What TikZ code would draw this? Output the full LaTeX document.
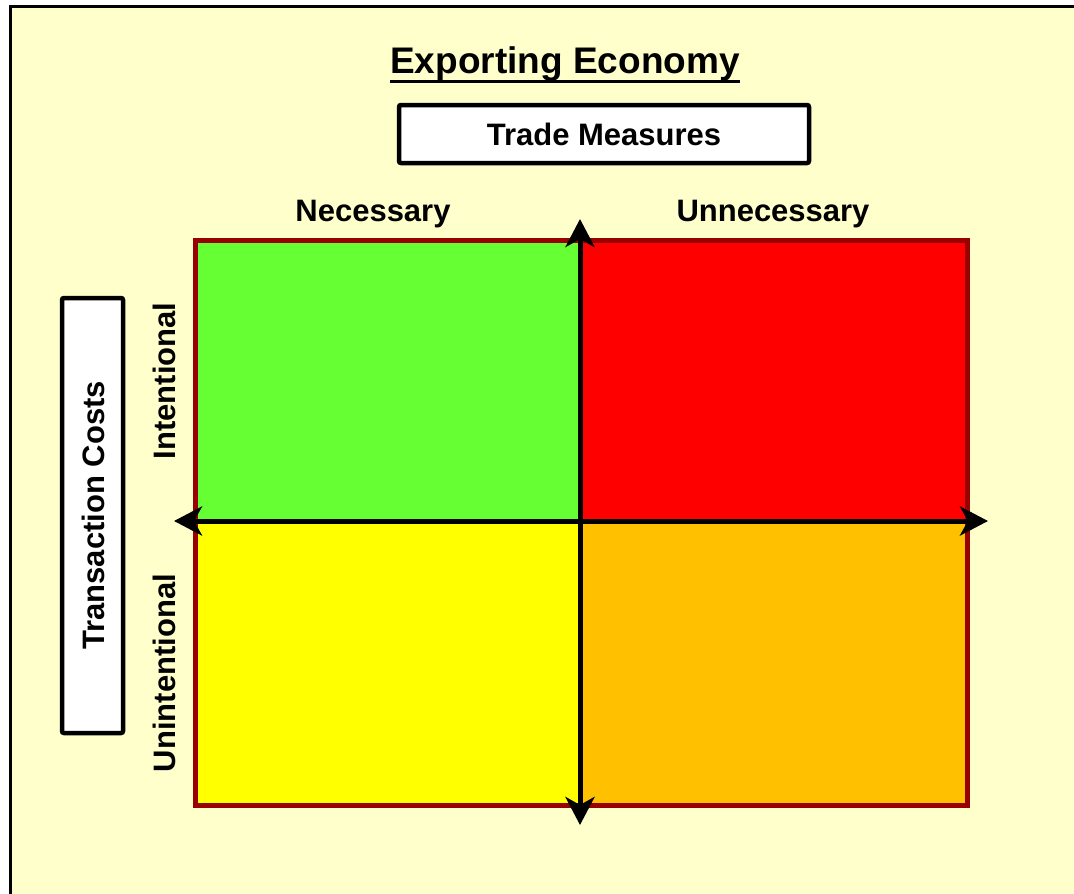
\documentclass[tikz,border=0pt]{standalone}
\usepackage{fontspec}
\setmainfont{Liberation Sans}
\usetikzlibrary{arrows.meta}
\definecolor{bgyellow}{HTML}{FFFFCC}
\definecolor{qgreen}{HTML}{66FF33}
\definecolor{qred}{HTML}{FF0000}
\definecolor{qyellow}{HTML}{FFFF00}
\definecolor{qorange}{HTML}{FFC000}
\definecolor{qborder}{HTML}{990000}
\begin{document}
\begin{tikzpicture}[x=1pt,y=-1pt,
  lbl/.style={font=\fontsize{31}{34}\selectfont\bfseries, inner sep=0pt},
  quad/.style={draw=qborder, line width=5pt, inner sep=0pt},
  axisline/.style={line width=5pt, {Stealth[length=28pt,width=29pt,inset=8pt]}-{Stealth[length=28pt,width=29pt,inset=8pt]}},
  labelbox/.style={draw=black, line width=4.5pt, fill=white, rounded corners=2pt, inner sep=0pt}]
\useasboundingbox (0,0) rectangle (1074,894);
% page background
\fill[bgyellow] (10,6) rectangle (1074,894);
\draw[line width=3pt] (10,894) -- (10,6) -- (1074,6);
% title
\node[font=\fontsize{37}{40}\selectfont\bfseries, anchor=base, inner sep=0pt] (title) at (565,73) {Exporting Economy};
\draw[line width=3pt] ([yshift=-8.5pt]title.base west) -- ([yshift=-8.5pt]title.base east);
% trade measures box
\node[labelbox, minimum width=410pt, minimum height=58pt] (tm) at (604,134) {};
\node[lbl, anchor=base] (tmtext) at (604,145) {Trade Measures};
% column labels
\node[lbl, anchor=base] (nec) at (373,221) {Necessary};
\node[lbl, anchor=base] (unnec) at (773,221) {Unnecessary};
% quadrants
\node[quad, fill=qgreen, minimum width=385pt, minimum height=281pt] (q1) at (387.5,380.5) {};
\node[quad, fill=qred, minimum width=387pt, minimum height=281pt] (q2) at (773.5,380.5) {};
\node[quad, fill=qyellow, minimum width=385pt, minimum height=284pt] (q3) at (387.5,663) {};
\node[quad, fill=qorange, minimum width=387pt, minimum height=284pt] (q4) at (773.5,663) {};
% row labels
\node[lbl, anchor=base, rotate=90] (intl) at (175,381) {Intentional};
\node[lbl, anchor=base, rotate=90] (unintl) at (175,673) {Unintentional};
% transaction costs box
\node[labelbox, minimum width=435pt, minimum height=61pt, rotate=90] (tc) at (92.5,515.5) {};
\node[lbl, anchor=base, rotate=90] (tctext) at (104,515.5) {Transaction Costs};
% axes
\coordinate (vtop) at (580,219);
\coordinate (vbot) at (580,825);
\coordinate (hleft) at (174,521);
\coordinate (hright) at (988,521);
\draw[axisline] (vbot) -- (vtop);
\draw[axisline] (hleft) -- (hright);
\end{tikzpicture}
\end{document}
